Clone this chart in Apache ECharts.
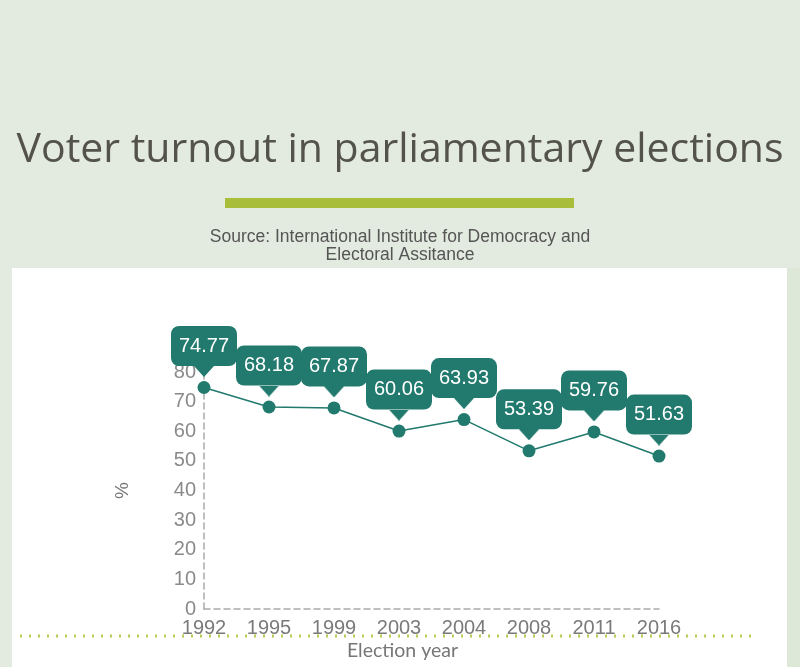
<!DOCTYPE html>
<html><head><meta charset="utf-8">
<script src="https://cdn.jsdelivr.net/npm/echarts@6/dist/echarts.min.js"></script>
<style>html,body{margin:0;padding:0;background:#e3eadf;}#c{width:800px;height:667px;}</style>
</head><body><div id="c"></div>
<script>
const years = ['1992','1995','1999','2003','2004','2008','2011','2016'];
const turnout = [74.77, 68.18, 67.87, 60.06, 63.93, 53.39, 59.76, 51.63];
const yTicks = {min: 0, max: 80, interval: 10};
const titleText = 'Voter turnout in parliamentary elections';
const sourceText = 'Source: International Institute for Democracy and\nElectoral Assitance';
const teal = '#217a6d';

// small triangle pointer used under each value box
const tri = document.createElement('canvas');
tri.width = 20; tri.height = 11;
(function () {
  const g = tri.getContext('2d');
  g.fillStyle = teal;
  g.beginPath(); g.moveTo(0, 0); g.lineTo(20, 0); g.lineTo(10, 11); g.closePath(); g.fill();
})();

const chart = echarts.init(document.getElementById('c'), null, {renderer: 'canvas'});
chart.setOption({
  backgroundColor: '#e3eadf',
  animation: false,
  graphic: [
    {type: 'rect', shape: {x: 12, y: 268, width: 775, height: 399}, style: {fill: '#ffffff'}, z: -10},
    {type: 'rect', shape: {x: 787, y: 268, width: 13, height: 399}, style: {fill: '#dde8d9'}, z: -10},
    {type: 'rect', shape: {x: 225, y: 198, width: 349, height: 10}, style: {fill: '#a8bd3a'}},
    {type: 'line', shape: {x1: 20, y1: 636, x2: 752, y2: 636}, style: {stroke: '#b9cc55', lineWidth: 3, lineDash: [2, 7]}}
  ],
  title: [
    {text: titleText, left: 'center', top: 125,
     textStyle: {fontFamily: 'Open Sans', fontSize: 41, fontWeight: 'normal', color: '#53534a'}},
    {text: sourceText, left: 'center', top: 223,
     textStyle: {fontFamily: 'Liberation Sans', fontSize: 17.5, fontWeight: 'normal', color: '#555555', lineHeight: 18, align: 'center', width: 420}}
  ],
  grid: {left: 204, right: 141, top: 372, bottom: 58, containLabel: false},
  xAxis: {
    type: 'category', data: years, boundaryGap: false,
    name: 'Election year', nameLocation: 'middle', nameGap: 32,
    nameTextStyle: {fontFamily: 'Lato', fontSize: 19.5, color: '#777777', padding: [0, 58, 0, 0]},
    axisLine: {lineStyle: {color: '#aaaaaa', type: [6, 4], width: 1.5}},
    axisTick: {show: false},
    axisLabel: {fontFamily: 'Liberation Sans', fontSize: 20, color: '#7a7a7a', margin: 9}
  },
  yAxis: {
    type: 'value', min: yTicks.min, max: yTicks.max, interval: yTicks.interval,
    name: '%', nameLocation: 'middle', nameGap: 72, nameRotate: 90,
    nameTextStyle: {fontFamily: 'Liberation Sans', fontSize: 19, color: '#777777'},
    axisLine: {show: true, lineStyle: {color: '#aaaaaa', type: [6, 4], width: 1.5}},
    axisTick: {show: false},
    splitLine: {show: false},
    axisLabel: {fontFamily: 'Liberation Sans', fontSize: 20, color: '#8a8a8a', margin: 8}
  },
  series: [{
    type: 'line', data: turnout,
    symbol: 'circle', symbolSize: 13,
    itemStyle: {color: teal},
    lineStyle: {color: teal, width: 1.5},
    label: {
      show: true, position: 'top', distance: 4,
      formatter: p => '{box|' + p.value.toFixed(2) + '}\n{arr|}',
      rich: {
        box: {backgroundColor: teal, color: '#ffffff', fontFamily: 'Liberation Sans', fontSize: 20,
              width: 66, height: 40, lineHeight: 40, align: 'center', borderRadius: 8},
        arr: {backgroundColor: {image: tri}, width: 20, height: 11, lineHeight: 11, align: 'center'}
      }
    },
    z: 5
  }]
});
</script></body></html>
